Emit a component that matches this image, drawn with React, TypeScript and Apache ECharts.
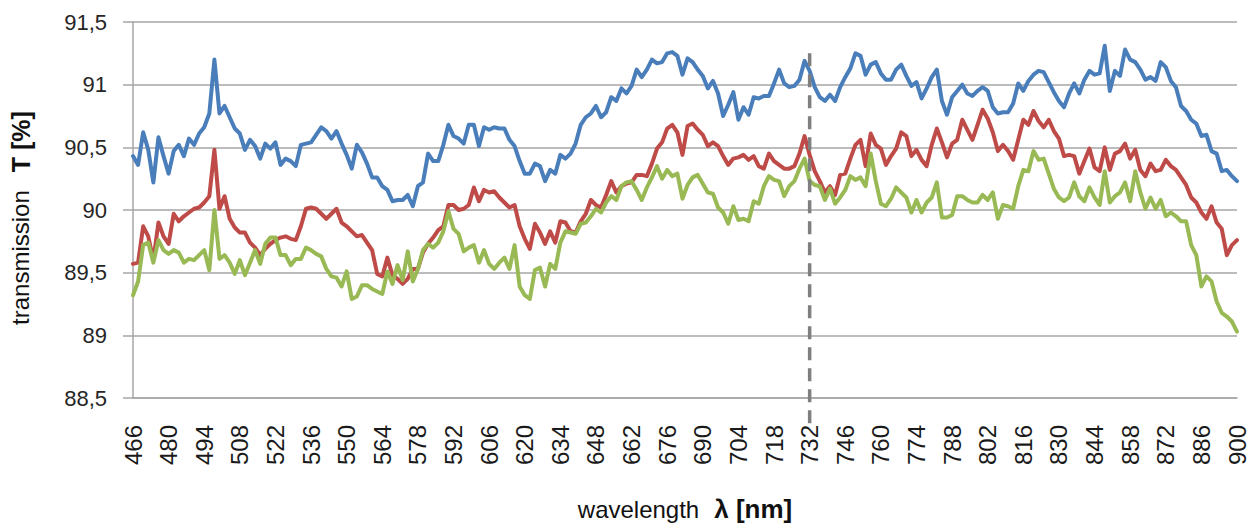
import React, { useEffect, useRef } from "react";
import * as echarts from "echarts";

// Wavelength categories (nm): 466 .. 900, step 2
const WL_START = 466;
const WL_STEP = 2;
const WL_COUNT = 218;
const wavelengths: string[] = Array.from({ length: WL_COUNT }, (_, i) => String(WL_START + i * WL_STEP));

const yTickMin = 88.5;
const yTickMax = 91.5;
const yTickStep = 0.5;
const markerWavelength = "732";
const markerTop = 91.25;

const blueSeries: number[] = [
  90.43, 90.36, 90.62, 90.48, 90.22, 90.58, 90.43, 90.29, 90.47, 90.52,
  90.43, 90.57, 90.52, 90.61, 90.66, 90.77, 91.2, 90.77, 90.83, 90.74,
  90.65, 90.61, 90.48, 90.56, 90.51, 90.41, 90.53, 90.49, 90.54, 90.36,
  90.41, 90.39, 90.35, 90.52, 90.53,
  90.54, 90.6, 90.66, 90.63, 90.57, 90.63, 90.53, 90.44, 90.33, 90.52,
  90.46, 90.37, 90.26, 90.26, 90.19, 90.16, 90.07, 90.08, 90.08, 90.12,
  90.03, 90.19, 90.22, 90.45, 90.39, 90.39, 90.52, 90.68, 90.59, 90.57,
  90.53, 90.68, 90.68, 90.51, 90.66, 90.64,
  90.66, 90.65, 90.65, 90.56, 90.51, 90.39, 90.29, 90.29, 90.37, 90.35,
  90.23, 90.32, 90.29, 90.44, 90.41, 90.45, 90.53, 90.68, 90.74, 90.77,
  90.83, 90.74, 90.78, 90.9, 90.87, 90.97, 90.93, 90.99, 91.12, 91.06,
  91.12, 91.2, 91.17,
  91.18, 91.25, 91.26, 91.23, 91.08, 91.21, 91.18, 91.12, 91.07, 90.97,
  91.03, 90.93, 90.75, 90.84, 90.94, 90.72, 90.82, 90.76, 90.9, 90.89,
  90.91, 90.91, 91.01, 91.12, 91.01, 90.98, 90.99, 91.04, 91.19, 91.11,
  90.98, 90.9, 90.87, 90.92, 90.87, 90.98, 91.06, 91.13,
  91.25, 91.23, 91.08, 91.16, 91.18, 91.09, 91.04, 91.04, 91.12, 91.16,
  91.07, 90.99, 91.02, 90.89, 90.97, 91.06, 91.12, 90.87, 90.76, 90.9,
  90.95, 91.0, 90.93, 90.91, 90.95, 90.98, 90.95, 90.82, 90.77, 90.78,
  90.78, 90.85, 91.01,
  90.95, 91.03, 91.08, 91.11, 91.1, 91.02, 90.94, 90.87, 90.82, 90.93,
  91.01, 90.93, 91.04, 91.11, 91.08, 91.09, 91.31, 90.95, 91.11, 91.07,
  91.28, 91.2, 91.18, 91.12, 91.04, 91.06, 91.03, 91.18, 91.14, 91.03,
  90.98, 90.83, 90.79, 90.72, 90.69, 90.59, 90.6, 90.47, 90.45, 90.31,
  90.32, 90.27, 90.23,
];

const redSeries: number[] = [
  89.57, 89.58, 89.87, 89.79, 89.6, 89.9, 89.79, 89.73, 89.97, 89.91,
  89.95, 89.98, 90.01, 90.02, 90.06, 90.11, 90.48, 90.01, 90.11, 89.93,
  89.86, 89.82, 89.82, 89.74, 89.7, 89.64, 89.69, 89.73, 89.76, 89.78,
  89.79, 89.77, 89.76, 89.87, 90.01,
  90.02, 90.01, 89.97, 89.93, 89.97, 90.01, 89.9, 89.87, 89.83, 89.79,
  89.8, 89.74, 89.68, 89.49, 89.47, 89.62, 89.48, 89.45, 89.41, 89.45,
  89.53, 89.53, 89.66, 89.73, 89.78, 89.84, 89.87, 90.04, 90.04, 90.0,
  90.01, 90.04, 90.18, 90.07, 90.16, 90.14,
  90.15, 90.1, 90.06, 90.02, 90.04, 89.87, 89.77, 89.69, 89.89, 89.82,
  89.73, 89.83, 89.74, 89.91, 89.9, 89.83, 89.82, 89.91, 89.97, 90.08,
  90.04, 90.02, 90.12, 90.23, 90.14, 90.19, 90.21, 90.22, 90.28, 90.28,
  90.27, 90.37, 90.49,
  90.54, 90.65, 90.68, 90.62, 90.44, 90.67, 90.69, 90.64, 90.6, 90.51,
  90.54, 90.51, 90.43, 90.36, 90.41, 90.42, 90.44, 90.4, 90.43, 90.35,
  90.33, 90.45, 90.39, 90.36, 90.33, 90.33, 90.35, 90.45, 90.59, 90.44,
  90.31, 90.23, 90.14, 90.19, 90.12, 90.28, 90.29, 90.41,
  90.52, 90.56, 90.35, 90.61, 90.52, 90.49, 90.36, 90.43, 90.49, 90.62,
  90.59, 90.43, 90.48, 90.4, 90.35, 90.52, 90.65, 90.54, 90.42, 90.53,
  90.56, 90.72, 90.64, 90.56, 90.68, 90.8, 90.73, 90.62, 90.47, 90.52,
  90.47, 90.4, 90.56,
  90.72, 90.68, 90.79, 90.71, 90.66, 90.72, 90.63, 90.57, 90.43, 90.44,
  90.43, 90.29, 90.39, 90.49, 90.34, 90.31, 90.5, 90.32, 90.45, 90.47,
  90.53, 90.41, 90.48, 90.32, 90.27, 90.37, 90.31, 90.32, 90.4, 90.35,
  90.32, 90.26, 90.2, 90.1, 90.06, 89.98, 89.93, 90.03, 89.9, 89.85,
  89.64, 89.72, 89.76,
];

const greenSeries: number[] = [
  89.32, 89.43, 89.72, 89.74, 89.58, 89.76, 89.68, 89.65, 89.68, 89.66,
  89.58, 89.61, 89.6, 89.64, 89.68, 89.52, 90.0, 89.61, 89.64, 89.58,
  89.49, 89.6, 89.48, 89.58, 89.68, 89.57, 89.73, 89.78, 89.78, 89.64,
  89.64, 89.56, 89.61, 89.61, 89.7,
  89.68, 89.65, 89.63, 89.53, 89.47, 89.46, 89.39, 89.51, 89.29, 89.31,
  89.4, 89.4, 89.37, 89.35, 89.33, 89.51, 89.41, 89.56, 89.44, 89.67,
  89.43, 89.53, 89.68, 89.73, 89.7, 89.74, 89.83, 89.99, 89.85, 89.81,
  89.67, 89.7, 89.72, 89.58, 89.68, 89.57,
  89.53, 89.58, 89.62, 89.53, 89.72, 89.39, 89.32, 89.29, 89.52, 89.54,
  89.39, 89.57, 89.53, 89.74, 89.83, 89.82, 89.81, 89.89, 89.9, 89.95,
  90.01, 89.98, 90.06, 90.11, 90.08, 90.19, 90.22, 90.23, 90.16, 90.08,
  90.18, 90.26, 90.35,
  90.25, 90.32, 90.27, 90.29, 90.09, 90.2, 90.26, 90.28, 90.21, 90.14,
  90.13, 90.02, 89.98, 89.89, 90.03, 89.92, 89.93, 89.91, 90.07, 90.05,
  90.19, 90.27, 90.24, 90.23, 90.11, 90.19, 90.23, 90.33, 90.41, 90.23,
  90.2, 90.19, 90.08, 90.17, 90.05, 90.1, 90.16, 90.27,
  90.24, 90.26, 90.19, 90.45, 90.23, 90.05, 90.03, 90.09, 90.18, 90.14,
  90.1, 89.98, 90.08, 89.98, 90.06, 90.1, 90.22, 89.94, 89.94, 89.96,
  90.11, 90.11, 90.08, 90.06, 90.06, 90.12, 90.08, 90.14, 89.93, 90.04,
  90.03, 90.01, 90.19,
  90.32, 90.31, 90.47, 90.4, 90.41, 90.29, 90.17, 90.1, 90.07, 90.1,
  90.22, 90.11, 90.07, 90.18, 90.1, 90.04, 90.31, 90.06, 90.11, 90.14,
  90.22, 90.07, 90.31, 90.14, 90.01, 90.1, 90.01, 90.08, 89.95, 89.98,
  89.95, 89.91, 89.91, 89.72, 89.64, 89.39, 89.47, 89.43, 89.27, 89.18,
  89.15, 89.11, 89.03,
];

const FONT = "'Liberation Sans', Arial, sans-serif";
const GRID_COLOR = "#a6a6a6";

export default function App() {
  const ref = useRef<HTMLDivElement>(null);

  useEffect(() => {
    if (!ref.current) return;
    const chart = echarts.init(ref.current, undefined, { renderer: "svg" });
    const lineSeries = (name: string, data: number[], color: string) => ({
      name,
      type: "line",
      data,
      symbol: "none",
      smooth: false,
      lineStyle: { color, width: 4, cap: "round", join: "round" },
      itemStyle: { color },
    });
    chart.setOption({
      animation: false,
      backgroundColor: "#ffffff",
      grid: { left: 132, right: 20, top: 22, bottom: 129, containLabel: false },
      xAxis: {
        type: "category",
        data: wavelengths,
        boundaryGap: false,
        name: "{a|wavelength}{b|λ [nm]}",
        nameLocation: "middle",
        nameGap: 98,
        nameTextStyle: {
          rich: {
            a: { fontFamily: FONT, fontSize: 24, color: "#111" },
            b: { fontFamily: FONT, fontSize: 26, fontWeight: "bold", color: "#111", padding: [0, 0, 0, 15] },
          },
        },
        axisLine: { show: true, lineStyle: { color: GRID_COLOR, width: 1.5 } },
        axisTick: { show: false },
        axisLabel: {
          interval: 6,
          rotate: 90,
          margin: 27,
          fontFamily: FONT,
          fontSize: 24,
          color: "#1a1a1a",
        },
        splitLine: { show: false },
      },
      yAxis: {
        type: "value",
        min: yTickMin,
        max: yTickMax,
        interval: yTickStep,
        name: "{a|transmission}{b|T [%]}",
        nameLocation: "middle",
        nameGap: 100,
        nameTextStyle: {
          rich: {
            a: { fontFamily: FONT, fontSize: 24, color: "#111" },
            b: { fontFamily: FONT, fontSize: 25, fontWeight: "bold", color: "#111", padding: [0, 16, 0, 18] },
          },
        },
        axisLine: { show: true, lineStyle: { color: GRID_COLOR, width: 1.5 } },
        axisTick: { show: true, length: 10, lineStyle: { color: GRID_COLOR, width: 1.5 } },
        axisLabel: {
          margin: 26,
          fontFamily: FONT,
          fontSize: 22,
          color: "#262626",
          formatter: (v: number) => String(v).replace(".", ","),
        },
        splitLine: { show: true, lineStyle: { color: GRID_COLOR, width: 1.5 } },
      },
      series: [
        lineSeries("blue", blueSeries, "#4a7ebb"),
        lineSeries("red", redSeries, "#be4b48"),
        lineSeries("green", greenSeries, "#98b954"),
      ],
    });

    const mx = chart.convertToPixel({ xAxisIndex: 0 }, markerWavelength) as number;
    const myTop = chart.convertToPixel({ yAxisIndex: 0 }, markerTop) as number;
    const myBottom = (chart.convertToPixel({ yAxisIndex: 0 }, yTickMin) as number) + 30;
    chart.setOption({
      graphic: [
        {
          type: "line",
          z: 100,
          shape: { x1: mx, y1: myTop, x2: mx, y2: myBottom },
          style: { stroke: "#7f7f7f", lineWidth: 3.5, lineDash: [13, 8] },
        },
      ],
    });

    return () => chart.dispose();
  }, []);

  return (
    <div
      ref={ref}
      style={{ position: "fixed", left: 0, top: 0, width: 1257, height: 527, background: "#fff" }}
    />
  );
}
